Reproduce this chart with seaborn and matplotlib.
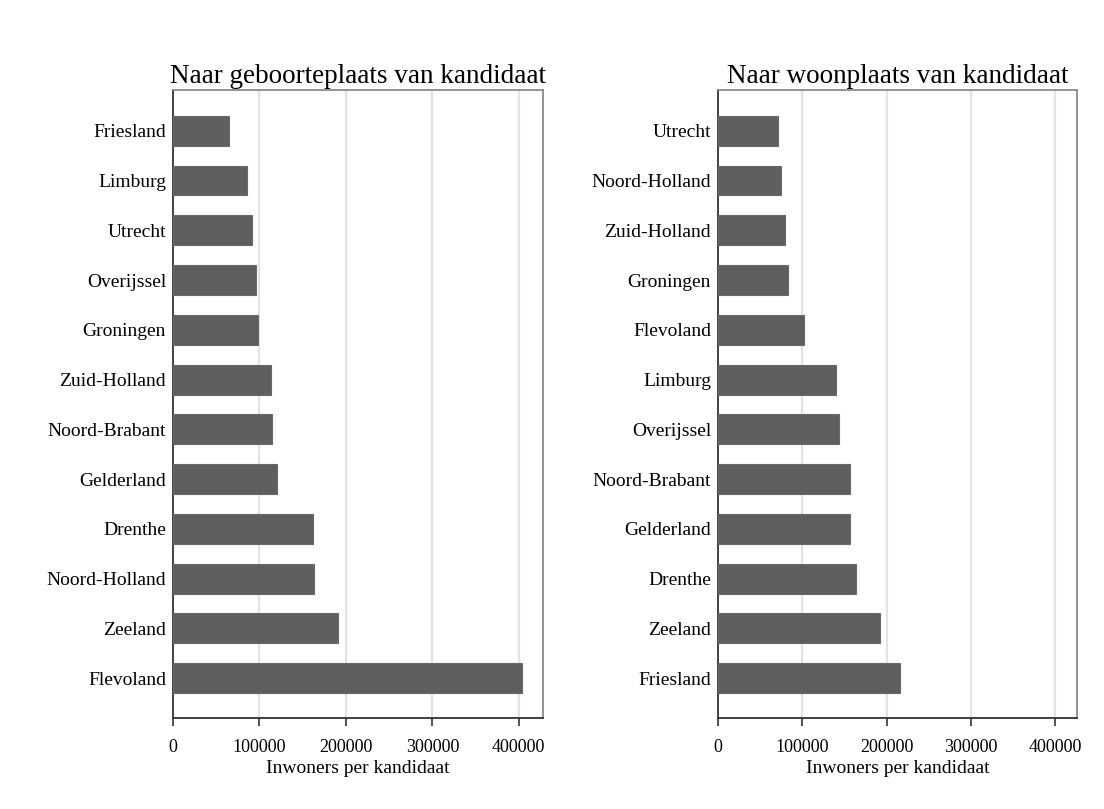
import seaborn as sns
import pandas as pd
import matplotlib.pyplot as plt

# Inwoners per kandidaat
geboorte_provincies = ['Friesland', 'Limburg', 'Utrecht', 'Overijssel', 'Groningen',
                       'Zuid-Holland', 'Noord-Brabant', 'Gelderland', 'Drenthe',
                       'Noord-Holland', 'Zeeland', 'Flevoland']
geboorte_waarden = [65000, 86000, 91500, 95500, 98500, 113000, 114500, 120000,
                    162000, 163500, 191000, 403500]

woon_provincies = ['Utrecht', 'Noord-Holland', 'Zuid-Holland', 'Groningen', 'Flevoland',
                   'Limburg', 'Overijssel', 'Noord-Brabant', 'Gelderland', 'Drenthe',
                   'Zeeland', 'Friesland']
woon_waarden = [71000, 75000, 79500, 83500, 102500, 139500, 144000, 156500,
                156500, 164000, 192000, 216000]

x_ticks = [0, 100000, 200000, 300000, 400000]

sns.set_theme(style='white')
plt.rcParams['font.family'] = ['Liberation Serif', 'DejaVu Serif']
plt.rcParams['text.color'] = 'black'
plt.rcParams['axes.labelcolor'] = 'black'

BAR = '#5e5e5e'
GRID = '#e3e3e3'


def draw_panel(ax, labels, values, title):
    df = pd.DataFrame({'provincie': labels, 'waarde': values})
    sns.barplot(data=df, x='waarde', y='provincie', orient='h', color=BAR,
                saturation=1, width=0.6, ax=ax, edgecolor='#6a6a6a', linewidth=0.8,
                zorder=3)
    ax.set_xlim(0, 428000)
    ax.set_ylim(11.8, -0.82)
    ax.set_xticks(x_ticks)
    ax.set_xticklabels([str(t) for t in x_ticks], fontsize=13)
    ax.tick_params(axis='x', direction='out', length=6, width=1.2, color='#333333',
                   bottom=True, pad=9, labelcolor='black')
    ax.tick_params(axis='y', length=0, pad=5, labelsize=14, labelcolor='black')
    for t in x_ticks[1:]:
        ax.axvline(t, color=GRID, linewidth=1.6, zorder=1)
    ax.set_xlabel('Inwoners per kandidaat', fontsize=14, labelpad=3, color='black')
    ax.set_ylabel('')
    ax.set_title(title, fontsize=19.5, pad=5, color='black')
    for side in ['left', 'bottom']:
        ax.spines[side].set_color('#333333')
        ax.spines[side].set_linewidth(1.3)
    for side in ['top', 'right']:
        ax.spines[side].set_color('#8a8a8a')
        ax.spines[side].set_linewidth(1.3)


fig = plt.figure(figsize=(11.04, 8.09), dpi=100)
ax1 = fig.add_axes([173 / 1104, 1 - 718 / 809, 370 / 1104, 628 / 809])
ax2 = fig.add_axes([718 / 1104, 1 - 718 / 809, 359 / 1104, 628 / 809])

draw_panel(ax1, geboorte_provincies, geboorte_waarden, 'Naar geboorteplaats van kandidaat')
draw_panel(ax2, woon_provincies, woon_waarden, 'Naar woonplaats van kandidaat')
ax2.set_xlim(0, 425500)

fig.savefig('out.png', dpi=100, facecolor='white')
